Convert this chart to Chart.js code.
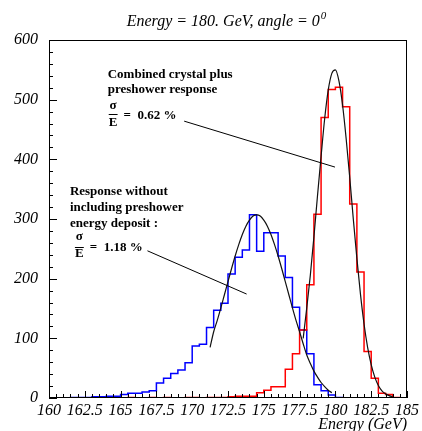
<!DOCTYPE html>
<html>
<head>
<meta charset="utf-8">
<script src="https://cdn.jsdelivr.net/npm/chart.js@4.4.1/dist/chart.umd.min.js"></script>
<style>
  html, body { margin: 0; padding: 0; background: #fff; }
</style>
</head>
<body>
<canvas id="c" width="422" height="431"></canvas>
<script>
// histogram binning (GeV)
const binLow = 160;
const binWidth = 0.5;

// response without preshower (blue), counts per 0.5 GeV bin from 160 GeV
const blueCounts = [
  0, 0, 0, 1, 1, 1, 2, 2, 3, 3,
  6, 8, 8, 10, 12, 25, 33, 41, 47, 59,
  87, 90, 118, 147, 159, 208, 236, 248, 307, 246,
  277, 277, 238, 202, 152, 114, 74, 22, 12, 5,
  1, 0, 0, 0, 0, 0, 0, 0, 0, 0
];

// combined crystal + preshower (red)
const redCounts = [
  0, 0, 0, 0, 0, 0, 0, 0, 0, 0,
  0, 1, 0, 0, 1, 0, 1, 0, 0, 1,
  1, 0, 1, 1, 1, 2, 3, 3, 3, 9,
  13, 19, 19, 48, 74, 114, 190, 308, 470, 517,
  521, 488, 325, 211, 78, 33, 8, 6, 1, 0
];

// gaussian fits
const fitBlueX = [171.25, 171.5, 171.75, 172, 172.25, 172.5, 172.75, 173, 173.25, 173.5,
  173.75, 174, 174.25, 174.5, 174.75, 175, 175.25, 175.5, 175.75, 176,
  176.25, 176.5, 176.75, 177, 177.25, 177.5, 177.75, 178, 178.25, 178.5,
  178.75, 179, 179.25, 179.5, 179.75];
const fitBlueY = [85, 111, 130, 151, 173, 195, 217, 238, 257, 274,
  288, 298, 305, 307, 305, 298, 288, 274, 257, 238,
  217, 195, 173, 151, 130, 111, 91, 72, 58, 45,
  35, 26, 19, 13, 9];

const fitRedX = [177.75, 178, 178.25, 178.5, 178.75, 179, 179.25, 179.5, 179.75, 180,
  180.25, 180.5, 180.75, 181, 181.25, 181.5, 181.75, 182, 182.25, 182.5,
  182.75, 183, 183.25, 183.5, 183.75, 184];
const fitRedY = [100, 151, 206, 270, 339, 405, 468, 516, 544, 550,
  531, 491, 435, 370, 300, 234, 174, 124, 85, 56,
  35, 21, 12, 7, 4, 2];

const xTicks = [160, 162.5, 165, 167.5, 170, 172.5, 175, 177.5, 180, 182.5, 185];
const yTicks = [0, 100, 200, 300, 400, 500, 600];

const SERIF = '"Liberation Serif", "Times New Roman", serif';

function histPoints(counts) {
  const pts = counts.map((c, i) => ({ x: binLow + i * binWidth, y: c }));
  pts.push({ x: binLow + counts.length * binWidth, y: counts[counts.length - 1] });
  return pts;
}

function curvePoints(xs, ys) {
  return xs.map((x, i) => ({ x: x, y: ys[i] }));
}

// frame + inward ROOT style ticks
const frameTicks = {
  id: 'frameTicks',
  afterDatasetsDraw(chart) {
    const { ctx, chartArea: a, scales: { x, y } } = chart;
    ctx.save();
    ctx.strokeStyle = '#000';
    ctx.lineWidth = 1;
    ctx.beginPath();
    for (let v = 0; v <= 600; v += 20) {
      const py = Math.round(y.getPixelForValue(v)) + 0.5;
      const len = v % 100 === 0 ? 8 : 4;
      ctx.moveTo(a.left, py);
      ctx.lineTo(a.left + len, py);
    }
    for (let k = 0; k <= 50; k++) {
      const v = 160 + k * 0.5;
      const px = Math.round(x.getPixelForValue(v)) + 0.5;
      const len = k % 5 === 0 ? 7 : 4;
      ctx.moveTo(px, a.bottom);
      ctx.lineTo(px, a.bottom - len);
    }
    ctx.stroke();
    ctx.strokeRect(a.left + 0.5, a.top + 0.5, a.right - a.left - 1, a.bottom - a.top - 1);
    ctx.restore();
  }
};

// title, comments and pointer lines
const notes = {
  id: 'notes',
  afterDraw(chart) {
    const { ctx, scales: { x, y } } = chart;
    const X = (v) => x.getPixelForValue(v);
    const Y = (v) => y.getPixelForValue(v);
    ctx.save();
    ctx.fillStyle = '#000';
    ctx.strokeStyle = '#000';

    // title with superscript
    ctx.font = 'italic 16px ' + SERIF;
    const main = 'Energy = 180. GeV, angle = 0';
    const w1 = ctx.measureText(main).width;
    ctx.font = 'italic 11px ' + SERIF;
    const w2 = ctx.measureText('0').width;
    const tx = 226 - (w1 + w2) / 2;
    ctx.font = 'italic 16px ' + SERIF;
    ctx.textBaseline = 'alphabetic';
    ctx.fillText(main, tx, 26);
    ctx.font = 'italic 11px ' + SERIF;
    ctx.fillText('0', tx + w1 + 1, 19);

    // pointer lines
    ctx.lineWidth = 1;
    ctx.beginPath();
    ctx.moveTo(X(166.875), Y(246.7));
    ctx.lineTo(X(173.8), Y(174.2));
    ctx.moveTo(X(169.44), Y(464));
    ctx.lineTo(X(179.97), Y(387));
    ctx.stroke();

    ctx.font = 'bold 13px ' + SERIF;
    ctx.textAlign = 'left';
    ctx.fillText('Combined crystal plus', X(164.1), Y(536));
    ctx.fillText('preshower response', X(164.1), Y(511));
    ctx.fillText('Response without', X(161.46), Y(340));
    ctx.fillText('including preshower', X(161.46), Y(313));
    ctx.fillText('energy deposit :', X(161.46), Y(286));

    function frac(cx, ySig, yBar, yE, x0, x1, xEq, yEq, txt) {
      ctx.textAlign = 'center';
      ctx.fillText('\u03c3', X(cx), Y(ySig));
      ctx.fillText('E', X(cx), Y(yE));
      ctx.beginPath();
      ctx.moveTo(X(x0), Math.round(Y(yBar)) + 0.5);
      ctx.lineTo(X(x1), Math.round(Y(yBar)) + 0.5);
      ctx.stroke();
      ctx.textAlign = 'left';
      ctx.fillText(txt, X(xEq), Y(yEq));
    }
    frac(164.48, 485, 476, 456, 164.17, 164.79, 165.21, 468, '=  0.62 %');
    frac(162.12, 264, 253, 236, 161.81, 162.43, 162.85, 246, '=  1.18 %');
    ctx.restore();
  }
};

const tickFont = { family: SERIF, size: 16, style: 'italic' };

new Chart(document.getElementById('c'), {
  type: 'line',
  data: {
    datasets: [
      { label: 'fit combined', data: curvePoints(fitRedX, fitRedY), borderColor: '#111',
        borderWidth: 1.2, pointRadius: 0, cubicInterpolationMode: 'monotone', fill: false },
      { label: 'fit no preshower', data: curvePoints(fitBlueX, fitBlueY), borderColor: '#111',
        borderWidth: 1.2, pointRadius: 0, cubicInterpolationMode: 'monotone', fill: false },
      { label: 'combined', data: histPoints(redCounts), borderColor: '#ff0000',
        borderWidth: 1.5, pointRadius: 0, stepped: true, fill: false },
      { label: 'no preshower', data: histPoints(blueCounts), borderColor: '#0000ff',
        borderWidth: 1.5, pointRadius: 0, stepped: true, fill: false }
    ]
  },
  options: {
    responsive: false,
    animation: false,
    events: [],
    layout: { padding: { top: 40, right: 13, left: 0, bottom: 0 } },
    plugins: { legend: { display: false }, tooltip: { enabled: false }, title: { display: false } },
    scales: {
      x: {
        type: 'linear', min: 160, max: 185,
        afterBuildTicks: (s) => { s.ticks = xTicks.map((v) => ({ value: v })); },
        afterFit: (s) => { s.height = 33; },
        grid: { display: false, drawTicks: false },
        border: { display: false },
        ticks: { autoSkip: false, maxRotation: 0, padding: 3, color: '#000', font: tickFont,
          callback: (v) => String(v) },
        title: { display: true, text: 'Energy (GeV)', align: 'end', color: '#000',
          font: { family: SERIF, size: 16, style: 'italic', lineHeight: 1 }, padding: { top: 0, bottom: -2 } }
      },
      y: {
        type: 'linear', min: 0, max: 600,
        afterBuildTicks: (s) => { s.ticks = yTicks.map((v) => ({ value: v })); },
        afterFit: (s) => { s.width = 49; },
        grid: { display: false, drawTicks: false },
        border: { display: false },
        ticks: { padding: 11, color: '#000', font: tickFont, callback: (v) => String(v) }
      }
    }
  },
  plugins: [frameTicks, notes]
});
</script>
</body>
</html>
